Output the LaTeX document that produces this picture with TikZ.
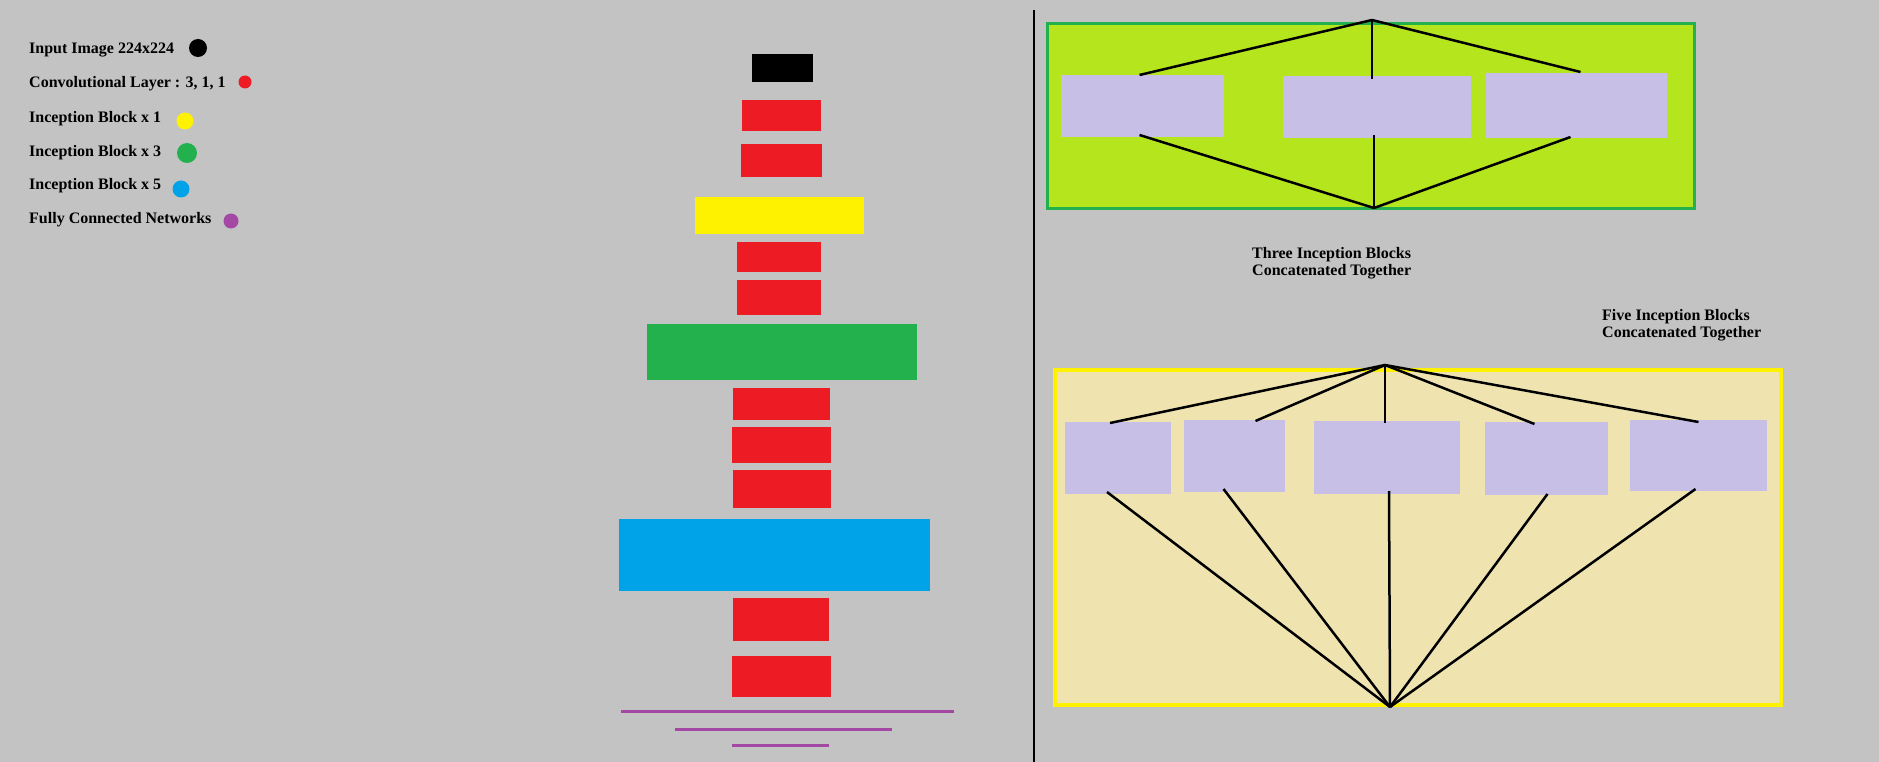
\documentclass[tikz,border=0pt]{standalone}
\usepackage{fontspec}
\setmainfont{Liberation Serif}
\definecolor{bgray}{HTML}{C3C3C3}
\definecolor{pred}{HTML}{ED1C24}
\definecolor{pyellow}{HTML}{FFF200}
\definecolor{pgreen}{HTML}{22B14C}
\definecolor{pblue}{HTML}{00A2E8}
\definecolor{ppurple}{HTML}{A349A4}
\definecolor{plime}{HTML}{B5E61D}
\definecolor{plav}{HTML}{C8BFE7}
\definecolor{ptan}{HTML}{EFE4B0}

\begin{document}
\begin{tikzpicture}[x=1pt,y=-1pt,
 txt/.style={font=\bfseries\fontsize{16}{17}\selectfont,inner sep=0pt,align=left},
 dot/.style={circle,fill=#1,inner sep=0pt},
 layerbox/.style={fill=#1,inner sep=0pt,outer sep=0pt},
 fcline/.style={ppurple,line width=3pt},
 blk/.style={fill=plav,inner sep=0pt,outer sep=0pt},
 link/.style={line width=2.5pt}]
\fill[bgray] (0,0) rectangle (1879,762);
\useasboundingbox (0,0) rectangle (1879,762);

% legend
\node[txt,anchor=base west] (l1) at (29,54) {Input Image 224x224};
\node[txt,anchor=base west] (l2) at (29,88) {Convolutional Layer : 3, 1, 1};
\node[txt,anchor=base west] (l3) at (29,123) {Inception Block x 1};
\node[txt,anchor=base west] (l4) at (29,157) {Inception Block x 3};
\node[txt,anchor=base west] (l5) at (29,190) {Inception Block x 5};
\node[txt,anchor=base west] (l6) at (29,224) {Fully Connected Networks};
\node[dot=black,minimum size=18pt] (d1) at (198,48) {};
\node[dot=pred,minimum size=13pt] (d2) at (245,82) {};
\node[dot=pyellow,minimum size=17pt] (d3) at (185,121) {};
\node[dot=pgreen,minimum size=20pt] (d4) at (187,153) {};
\node[dot=pblue,minimum size=17pt] (d5) at (181,189) {};
\node[dot=ppurple,minimum size=15pt] (d6) at (231,221) {};

% network stack
\node[layerbox=black,minimum width=61pt,minimum height=28pt] (inp) at (782.5,68) {};
\node[layerbox=pred,minimum width=79pt,minimum height=31pt] (c1) at (781.5,115.5) {};
\node[layerbox=pred,minimum width=81pt,minimum height=33pt] (c2) at (781.5,160.5) {};
\node[layerbox=pyellow,minimum width=169pt,minimum height=37pt] (ib1) at (779.5,215.5) {};
\node[layerbox=pred,minimum width=84pt,minimum height=30pt] (c3) at (779,257) {};
\node[layerbox=pred,minimum width=84pt,minimum height=35pt] (c4) at (779,297.5) {};
\node[layerbox=pgreen,minimum width=270pt,minimum height=56pt] (ib3) at (782,352) {};
\node[layerbox=pred,minimum width=97pt,minimum height=32pt] (c5) at (781.5,404) {};
\node[layerbox=pred,minimum width=99pt,minimum height=36pt] (c6) at (781.5,445) {};
\node[layerbox=pred,minimum width=98pt,minimum height=38pt] (c7) at (782,489) {};
\node[layerbox=pblue,minimum width=311pt,minimum height=72pt] (ib5) at (774.5,555) {};
\node[layerbox=pred,minimum width=96pt,minimum height=43pt] (c8) at (781,619.5) {};
\node[layerbox=pred,minimum width=99pt,minimum height=41pt] (c9) at (781.5,676.5) {};
\draw[fcline] (621,711) -- (954,711);
\draw[fcline] (675,729) -- (892,729);
\draw[fcline] (732,745) -- (829,745);

% divider
\draw[line width=2.5pt] (1034,10) -- (1034,762);

% three blocks
\draw[pgreen,fill=plime,line width=3pt] (1047.5,23.5) rectangle (1694.5,208.5);
\coordinate (t3in) at (1372,20);
\coordinate (t3out) at (1374,208);
\node[blk,minimum width=163pt,minimum height=62pt] (a1) at (1142.5,106) {};
\node[blk,minimum width=188pt,minimum height=62pt] (a2) at (1377,107) {};
\node[blk,minimum width=181pt,minimum height=65pt] (a3) at (1576.5,105.5) {};
\draw[link] (t3in) -- ([xshift=-3pt]a1.north);
\draw[link] (t3in) -- ([xshift=-5pt,yshift=-3pt]a2.north);
\draw[link] (t3in) -- ([xshift=4pt,yshift=1pt]a3.north);
\draw[link] ([xshift=-3pt,yshift=2pt]a1.south) -- (t3out);
\draw[link] ([xshift=-3pt,yshift=3pt]a2.south) -- (t3out);
\draw[link] ([xshift=-6pt,yshift=1pt]a3.south) -- (t3out);
\node[txt,anchor=north west] (cap3) at (1252,247) {Three Inception Blocks\\Concatenated Together};

% five blocks
\draw[pyellow,fill=ptan,line width=4pt] (1055,370) rectangle (1781,705);
\coordinate (t5in) at (1385,365);
\coordinate (t5out) at (1390,707);
\node[blk,minimum width=106pt,minimum height=72pt] (b1) at (1118,458) {};
\node[blk,minimum width=101pt,minimum height=72pt] (b2) at (1234.5,456) {};
\node[blk,minimum width=146pt,minimum height=73pt] (b3) at (1387,457.5) {};
\node[blk,minimum width=123pt,minimum height=73pt] (b4) at (1546.5,458.5) {};
\node[blk,minimum width=137pt,minimum height=71pt] (b5) at (1698.5,455.5) {};
\draw[link] (t5in) -- ([xshift=-8pt,yshift=-1pt]b1.north);
\draw[link] (t5in) -- ([xshift=21pt,yshift=-1pt]b2.north);
\draw[link] (t5in) -- ([xshift=-2pt,yshift=-2pt]b3.north);
\draw[link] (t5in) -- ([xshift=-12pt,yshift=-2pt]b4.north);
\draw[link] (t5in) -- ([yshift=-2pt]b5.north);
\draw[link] ([xshift=-11pt,yshift=2pt]b1.south) -- (t5out);
\draw[link] ([xshift=-11pt,yshift=3pt]b2.south) -- (t5out);
\draw[link] ([xshift=2pt,yshift=3pt]b3.south) -- (t5out);
\draw[link] ([xshift=1pt,yshift=1pt]b4.south) -- (t5out);
\draw[link] ([xshift=-3pt,yshift=2pt]b5.south) -- (t5out);
\node[txt,anchor=north west] (cap5) at (1602,309) {Five Inception Blocks\\Concatenated Together};
\end{tikzpicture}
\end{document}
